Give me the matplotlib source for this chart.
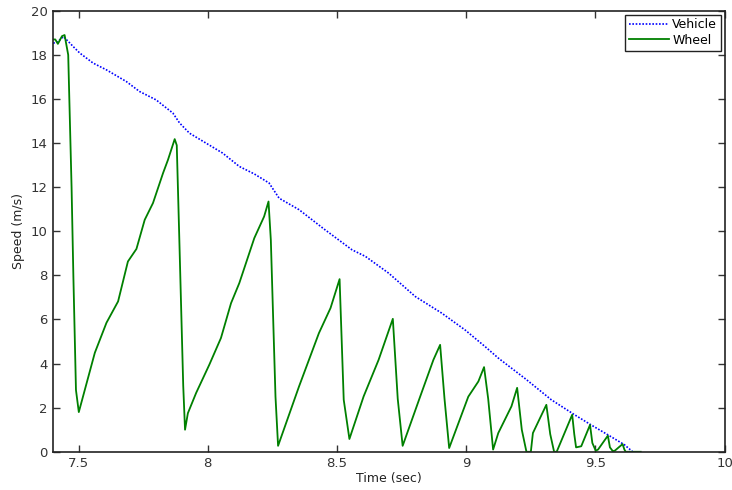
import matplotlib
matplotlib.use("Agg")
import matplotlib.pyplot as plt

# wheel speed
wheel_t = [7.400, 7.410, 7.420, 7.436, 7.446, 7.460, 7.473, 7.480, 7.490, 7.501,
           7.563, 7.608, 7.653, 7.691, 7.724, 7.756, 7.788, 7.827, 7.846, 7.872,
           7.880, 7.890, 7.905, 7.912,
           7.923, 7.955, 8.006, 8.051, 8.090, 8.122, 8.180, 8.218, 8.235,
           8.244, 8.262, 8.272,
           8.353, 8.430, 8.475, 8.510, 8.526, 8.548,
           8.603, 8.661, 8.716, 8.735, 8.754,
           8.822, 8.873, 8.899, 8.916, 8.934,
           9.008, 9.047, 9.069, 9.085, 9.104,
           9.124, 9.175, 9.197, 9.215, 9.233, 9.250,
           9.258, 9.310, 9.325, 9.340, 9.350,
           9.410, 9.418, 9.425, 9.445,
           9.479, 9.488, 9.501, 9.510,
           9.548, 9.556, 9.567, 9.575,
           9.605, 9.612, 9.617, 9.675]
wheel_v = [18.7, 18.7, 18.5, 18.85, 18.9, 18.0, 12.0, 7.95, 2.8, 1.8,
           4.49, 5.85, 6.82, 8.63, 9.2, 10.52, 11.28, 12.64, 13.24, 14.18,
           13.9, 9.6, 3.0, 1.0,
           1.75, 2.67, 3.95, 5.16, 6.74, 7.65, 9.69, 10.67, 11.35,
           9.6, 2.5, 0.27,
           2.96, 5.38, 6.52, 7.83, 2.36, 0.58,
           2.51, 4.17, 6.03, 2.4, 0.27,
           2.51, 4.17, 4.85, 2.4, 0.17,
           2.5, 3.19, 3.84, 2.4, 0.1,
           0.85, 2.06, 2.9, 1.0, 0.0, 0.0,
           0.85, 2.13, 0.8, 0.0, 0.0,
           1.68, 0.8, 0.2, 0.25,
           1.22, 0.4, 0.05, 0.1,
           0.73, 0.2, 0.03, 0.05,
           0.35, 0.1, 0.0, 0.0]

# vehicle speed
vehicle_t = [7.402, 7.420, 7.441, 7.467, 7.479, 7.505, 7.556, 7.608, 7.685, 7.736,
             7.800, 7.865, 7.891, 7.929, 7.993, 8.057, 8.122, 8.180, 8.237, 8.276,
             8.353, 8.450, 8.558, 8.610, 8.700, 8.803, 8.905, 8.995, 9.072, 9.124,
             9.230, 9.329, 9.419, 9.483, 9.548, 9.612, 9.644]
vehicle_v = [18.53, 18.6, 18.83, 18.53, 18.38, 18.08, 17.63, 17.32, 16.79, 16.34,
             15.96, 15.36, 14.91, 14.45, 14.0, 13.55, 12.94, 12.6, 12.19, 11.5,
             10.98, 10.1, 9.16, 8.86, 8.1, 7.04, 6.29, 5.53, 4.78, 4.25,
             3.3, 2.36, 1.68, 1.22, 0.77, 0.32, 0.0]

xticks = [7.5, 8, 8.5, 9, 9.5, 10]
xtick_labels = ["7.5", "8", "8.5", "9", "9.5", "10"]
yticks = [0, 2, 4, 6, 8, 10, 12, 14, 16, 18, 20]

fig = plt.figure(figsize=(7.32, 4.9), dpi=100)
ax = fig.add_axes([0.072, 0.078, 0.918, 0.9])

ax.plot(vehicle_t, vehicle_v, color="#0000ff", linestyle=(0, (1, 1)), linewidth=1.2, label="Vehicle")
ax.plot(wheel_t, wheel_v, color="#008000", linestyle="-", linewidth=1.3, label="Wheel")

ax.set_xlim(7.4, 10)
ax.set_ylim(0, 20)
ax.set_xticks(xticks)
ax.set_xticklabels(xtick_labels)
ax.set_yticks(yticks)
ax.tick_params(direction="in", top=True, right=True, labelsize=9.5,
               length=5, width=1, colors="#333333")
for s in ax.spines.values():
    s.set_linewidth(1.2)
    s.set_color("#222222")

ax.set_xlabel("Time (sec)", fontsize=9, labelpad=2, color="#222222")
ax.set_ylabel("Speed (m/s)", fontsize=9, labelpad=4, color="#222222")

leg = ax.legend(loc="upper right", fontsize=9, fancybox=False, framealpha=1,
                edgecolor="#222222", handlelength=3.2, borderpad=0.3,
                labelspacing=0.2, handletextpad=0.3, borderaxespad=0.3)
leg.get_frame().set_linewidth(1.0)

fig.savefig("out.png", dpi=100)
